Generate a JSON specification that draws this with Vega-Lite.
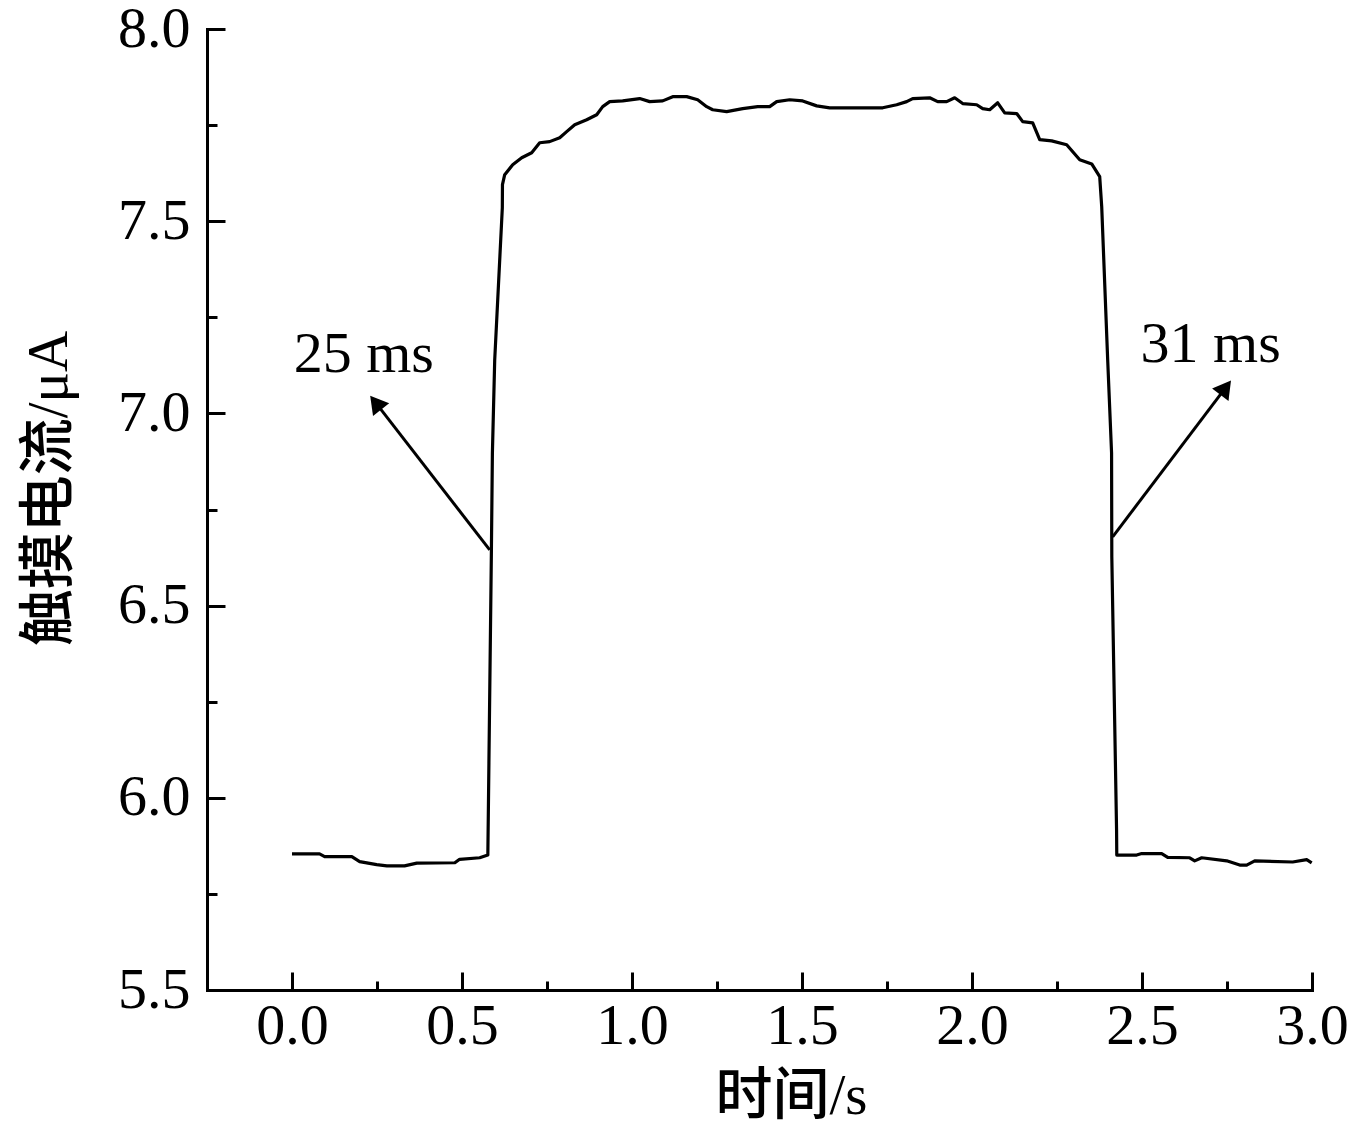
{
  "$schema": "https://vega.github.io/schema/vega-lite/v6.json",
  "width": 1105,
  "height": 961,
  "autosize": {"type": "none"},
  "padding": {"left": 207, "top": 29, "right": 43, "bottom": 150},
  "background": "white",
  "config": {
    "view": {"stroke": null},
    "axis": {
      "grid": false,
      "domainColor": "black",
      "tickColor": "black",
      "labelColor": "black",
      "titleColor": "black",
      "domainWidth": 3,
      "tickWidth": 3,
      "labelFont": "Liberation Serif",
      "labelFontSize": 58,
      "titleFont": "Liberation Serif, Noto Sans CJK SC",
      "titleFontSize": 57,
      "titleFontWeight": 500,
      "domainCap": "square"
    }
  },
  "datasets": {
    "curve": [
      {"t": 0.0, "current": 5.854},
      {"t": 0.081, "current": 5.854},
      {"t": 0.096, "current": 5.847},
      {"t": 0.176, "current": 5.847},
      {"t": 0.199, "current": 5.834},
      {"t": 0.249, "current": 5.826},
      {"t": 0.279, "current": 5.823},
      {"t": 0.331, "current": 5.823},
      {"t": 0.367, "current": 5.830},
      {"t": 0.479, "current": 5.831},
      {"t": 0.493, "current": 5.840},
      {"t": 0.552, "current": 5.844},
      {"t": 0.576, "current": 5.851},
      {"t": 0.5865, "current": 6.645},
      {"t": 0.5894, "current": 6.897},
      {"t": 0.5962, "current": 7.139},
      {"t": 0.6186, "current": 7.535},
      {"t": 0.6190, "current": 7.595},
      {"t": 0.6256, "current": 7.621},
      {"t": 0.6491, "current": 7.647},
      {"t": 0.6756, "current": 7.665},
      {"t": 0.705, "current": 7.678},
      {"t": 0.7285, "current": 7.704},
      {"t": 0.7579, "current": 7.707},
      {"t": 0.7874, "current": 7.717},
      {"t": 0.8079, "current": 7.733},
      {"t": 0.8315, "current": 7.751},
      {"t": 0.8668, "current": 7.764},
      {"t": 0.8962, "current": 7.777},
      {"t": 0.9138, "current": 7.798},
      {"t": 0.9344, "current": 7.811},
      {"t": 0.9726, "current": 7.813},
      {"t": 1.0226, "current": 7.819},
      {"t": 1.0521, "current": 7.811},
      {"t": 1.0903, "current": 7.813},
      {"t": 1.1197, "current": 7.824},
      {"t": 1.1609, "current": 7.824},
      {"t": 1.1932, "current": 7.816},
      {"t": 1.2197, "current": 7.798},
      {"t": 1.2374, "current": 7.790},
      {"t": 1.2785, "current": 7.785},
      {"t": 1.3256, "current": 7.793},
      {"t": 1.3697, "current": 7.798},
      {"t": 1.405, "current": 7.798},
      {"t": 1.4256, "current": 7.811},
      {"t": 1.4638, "current": 7.816},
      {"t": 1.5021, "current": 7.813},
      {"t": 1.5432, "current": 7.800},
      {"t": 1.5815, "current": 7.795},
      {"t": 1.7374, "current": 7.795},
      {"t": 1.7785, "current": 7.803},
      {"t": 1.8079, "current": 7.811},
      {"t": 1.8256, "current": 7.819},
      {"t": 1.8756, "current": 7.821},
      {"t": 1.8991, "current": 7.811},
      {"t": 1.9256, "current": 7.811},
      {"t": 1.9491, "current": 7.821},
      {"t": 1.9726, "current": 7.806},
      {"t": 2.0138, "current": 7.803},
      {"t": 2.0315, "current": 7.793},
      {"t": 2.0521, "current": 7.790},
      {"t": 2.0756, "current": 7.808},
      {"t": 2.0962, "current": 7.782},
      {"t": 2.1315, "current": 7.780},
      {"t": 2.1491, "current": 7.759},
      {"t": 2.1785, "current": 7.756},
      {"t": 2.1991, "current": 7.712},
      {"t": 2.2344, "current": 7.709},
      {"t": 2.2785, "current": 7.699},
      {"t": 2.3168, "current": 7.660},
      {"t": 2.3521, "current": 7.649},
      {"t": 2.3756, "current": 7.616},
      {"t": 2.3815, "current": 7.538},
      {"t": 2.3991, "current": 7.139},
      {"t": 2.4105, "current": 6.897},
      {"t": 2.4112, "current": 6.627},
      {"t": 2.4252, "current": 5.917},
      {"t": 2.4258, "current": 5.851},
      {"t": 2.4844, "current": 5.851},
      {"t": 2.4991, "current": 5.855},
      {"t": 2.5579, "current": 5.855},
      {"t": 2.5756, "current": 5.845},
      {"t": 2.6403, "current": 5.844},
      {"t": 2.655, "current": 5.836},
      {"t": 2.6756, "current": 5.844},
      {"t": 2.7491, "current": 5.836},
      {"t": 2.7874, "current": 5.825},
      {"t": 2.8079, "current": 5.825},
      {"t": 2.8315, "current": 5.836},
      {"t": 2.9432, "current": 5.833},
      {"t": 2.9844, "current": 5.839},
      {"t": 2.9991, "current": 5.831}
    ],
    "arrows": [
      {"t": 0.5815, "v": 6.645, "t2": 0.246, "v2": 7.028},
      {"t": 2.4138, "v": 6.679, "t2": 2.746, "v2": 7.067}
    ],
    "heads": [
      {"t": 0.246, "v": 7.028, "side": "left"},
      {"t": 2.746, "v": 7.067, "side": "right"}
    ],
    "notes": [
      {"t": 0.211, "v": 7.108, "text": "25 ms"},
      {"t": 2.702, "v": 7.134, "text": "31 ms"}
    ]
  },
  "layer": [
    {
      "data": {"name": "curve"},
      "mark": {"type": "line", "color": "black", "strokeWidth": 3.2, "strokeJoin": "round"},
      "encoding": {
        "x": {
          "field": "t", "type": "quantitative",
          "scale": {"domain": [-0.25, 3.0], "nice": false, "zero": false},
          "axis": {
            "orient": "bottom",
            "values": [0, 0.5, 1, 1.5, 2, 2.5, 3],
            "format": ".1f",
            "tickSize": -18,
            "labelPadding": 25,
            "title": "时间/s",
            "titleX": 584,
            "titleY": 123,
            "titleAlign": "center",
            "titleBaseline": "alphabetic",
            "labelFlush": false,
            "labelOverlap": false
          }
        },
        "y": {
          "field": "current", "type": "quantitative",
          "scale": {"domain": [5.5, 8.0], "nice": false, "zero": false},
          "axis": {
            "orient": "left",
            "values": [5.5, 6, 6.5, 7, 7.5, 8],
            "format": ".1f",
            "tickSize": -18,
            "labelPadding": 35,
            "title": "触摸电流/μA",
            "titleAngle": 270,
            "titleX": -141,
            "titleY": 459,
            "titleAlign": "center",
            "titleBaseline": "alphabetic",
            "labelFlush": false,
            "labelOverlap": false
          }
        }
      }
    },
    {
      "data": {"name": "arrows"},
      "mark": {"type": "rule", "color": "black", "strokeWidth": 3},
      "encoding": {
        "x": {
          "field": "t", "type": "quantitative",
          "axis": {
            "orient": "bottom",
            "values": [0.25, 0.75, 1.25, 1.75, 2.25, 2.75],
            "tickSize": -9,
            "labels": false,
            "domain": false,
            "title": null
          }
        },
        "y": {
          "field": "v", "type": "quantitative",
          "axis": {
            "orient": "left",
            "values": [5.75, 6.25, 6.75, 7.25, 7.75],
            "tickSize": -10,
            "labels": false,
            "domain": false,
            "title": null
          }
        },
        "x2": {"field": "t2"},
        "y2": {"field": "v2"}
      }
    },
    {
      "data": {"name": "heads"},
      "mark": {"type": "point", "shape": "triangle-up", "filled": true, "color": "black", "size": 420, "opacity": 1},
      "encoding": {
        "x": {"field": "t", "type": "quantitative", "axis": null},
        "y": {"field": "v", "type": "quantitative", "axis": null},
        "angle": {"field": "side", "type": "nominal", "scale": {"domain": ["left", "right"], "range": [322, 37]}, "legend": null}
      }
    },
    {
      "data": {"name": "notes"},
      "mark": {"type": "text", "font": "Liberation Serif", "fontSize": 58, "color": "black", "align": "center", "baseline": "alphabetic"},
      "encoding": {
        "x": {"field": "t", "type": "quantitative", "axis": null},
        "y": {"field": "v", "type": "quantitative", "axis": null},
        "text": {"field": "text"}
      }
    }
  ],
  "resolve": {"axis": {"x": "independent", "y": "independent"}}
}
